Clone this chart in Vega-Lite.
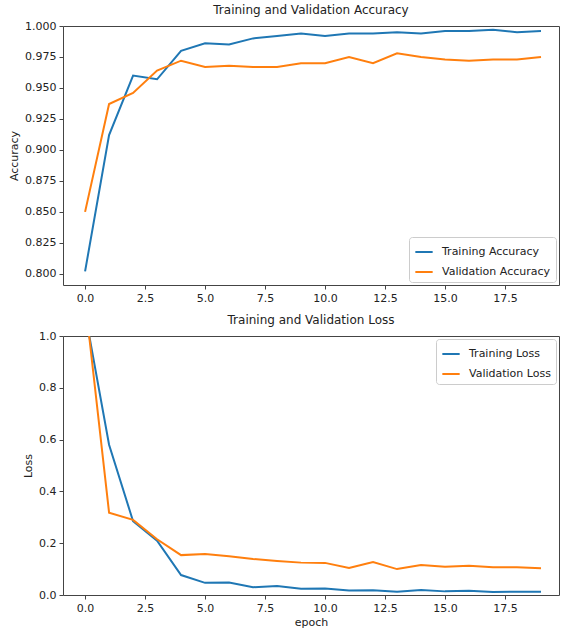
{
  "$schema": "https://vega.github.io/schema/vega-lite/v6.json",
  "padding": {"left": 8, "top": 3, "right": 0, "bottom": 0},
  "background": "white",
  "config": {
    "font": "DejaVu Sans",
    "view": {"stroke": "#444", "strokeWidth": 1},
    "axis": {"grid": false, "domain": false, "tickColor": "#444", "tickSize": 4, "labelFontSize": 11, "labelColor": "#222", "titleFontSize": 11, "titleFontWeight": "normal", "titleColor": "#222", "labelPadding": 3},
    "title": {"fontSize": 12, "fontWeight": "normal", "color": "#222", "offset": 3},
    "legend": {"labelFontSize": 11, "labelColor": "#222", "strokeColor": "#ccc", "fillColor": "white", "cornerRadius": 3, "padding": 5, "symbolType": "stroke", "symbolSize": 300, "symbolStrokeWidth": 2, "rowPadding": 5, "offset": 3, "labelOffset": 8},
    "concat": {"spacing": 9}
  },
  "datasets": {
    "acc": [
      {"epoch": 0, "series": "Training Accuracy", "value": 0.802},
      {"epoch": 1, "series": "Training Accuracy", "value": 0.912},
      {"epoch": 2, "series": "Training Accuracy", "value": 0.960},
      {"epoch": 3, "series": "Training Accuracy", "value": 0.957},
      {"epoch": 4, "series": "Training Accuracy", "value": 0.980},
      {"epoch": 5, "series": "Training Accuracy", "value": 0.986},
      {"epoch": 6, "series": "Training Accuracy", "value": 0.985},
      {"epoch": 7, "series": "Training Accuracy", "value": 0.990},
      {"epoch": 8, "series": "Training Accuracy", "value": 0.992},
      {"epoch": 9, "series": "Training Accuracy", "value": 0.994},
      {"epoch": 10, "series": "Training Accuracy", "value": 0.992},
      {"epoch": 11, "series": "Training Accuracy", "value": 0.994},
      {"epoch": 12, "series": "Training Accuracy", "value": 0.994},
      {"epoch": 13, "series": "Training Accuracy", "value": 0.995},
      {"epoch": 14, "series": "Training Accuracy", "value": 0.994},
      {"epoch": 15, "series": "Training Accuracy", "value": 0.996},
      {"epoch": 16, "series": "Training Accuracy", "value": 0.996},
      {"epoch": 17, "series": "Training Accuracy", "value": 0.997},
      {"epoch": 18, "series": "Training Accuracy", "value": 0.995},
      {"epoch": 19, "series": "Training Accuracy", "value": 0.996},
      {"epoch": 0, "series": "Validation Accuracy", "value": 0.850},
      {"epoch": 1, "series": "Validation Accuracy", "value": 0.937},
      {"epoch": 2, "series": "Validation Accuracy", "value": 0.946},
      {"epoch": 3, "series": "Validation Accuracy", "value": 0.964},
      {"epoch": 4, "series": "Validation Accuracy", "value": 0.972},
      {"epoch": 5, "series": "Validation Accuracy", "value": 0.967},
      {"epoch": 6, "series": "Validation Accuracy", "value": 0.968},
      {"epoch": 7, "series": "Validation Accuracy", "value": 0.967},
      {"epoch": 8, "series": "Validation Accuracy", "value": 0.967},
      {"epoch": 9, "series": "Validation Accuracy", "value": 0.970},
      {"epoch": 10, "series": "Validation Accuracy", "value": 0.970},
      {"epoch": 11, "series": "Validation Accuracy", "value": 0.975},
      {"epoch": 12, "series": "Validation Accuracy", "value": 0.970},
      {"epoch": 13, "series": "Validation Accuracy", "value": 0.978},
      {"epoch": 14, "series": "Validation Accuracy", "value": 0.975},
      {"epoch": 15, "series": "Validation Accuracy", "value": 0.973},
      {"epoch": 16, "series": "Validation Accuracy", "value": 0.972},
      {"epoch": 17, "series": "Validation Accuracy", "value": 0.973},
      {"epoch": 18, "series": "Validation Accuracy", "value": 0.973},
      {"epoch": 19, "series": "Validation Accuracy", "value": 0.975}
    ],
    "loss": [
      {"epoch": 0, "series": "Training Loss", "value": 1.09},
      {"epoch": 1, "series": "Training Loss", "value": 0.58},
      {"epoch": 2, "series": "Training Loss", "value": 0.285},
      {"epoch": 3, "series": "Training Loss", "value": 0.21},
      {"epoch": 4, "series": "Training Loss", "value": 0.077},
      {"epoch": 5, "series": "Training Loss", "value": 0.047},
      {"epoch": 6, "series": "Training Loss", "value": 0.048},
      {"epoch": 7, "series": "Training Loss", "value": 0.03},
      {"epoch": 8, "series": "Training Loss", "value": 0.035},
      {"epoch": 9, "series": "Training Loss", "value": 0.024},
      {"epoch": 10, "series": "Training Loss", "value": 0.025},
      {"epoch": 11, "series": "Training Loss", "value": 0.017},
      {"epoch": 12, "series": "Training Loss", "value": 0.018},
      {"epoch": 13, "series": "Training Loss", "value": 0.013},
      {"epoch": 14, "series": "Training Loss", "value": 0.019},
      {"epoch": 15, "series": "Training Loss", "value": 0.014},
      {"epoch": 16, "series": "Training Loss", "value": 0.016},
      {"epoch": 17, "series": "Training Loss", "value": 0.012},
      {"epoch": 18, "series": "Training Loss", "value": 0.013},
      {"epoch": 19, "series": "Training Loss", "value": 0.013},
      {"epoch": 0, "series": "Validation Loss", "value": 1.14},
      {"epoch": 1, "series": "Validation Loss", "value": 0.318},
      {"epoch": 2, "series": "Validation Loss", "value": 0.29},
      {"epoch": 3, "series": "Validation Loss", "value": 0.215},
      {"epoch": 4, "series": "Validation Loss", "value": 0.154},
      {"epoch": 5, "series": "Validation Loss", "value": 0.158},
      {"epoch": 6, "series": "Validation Loss", "value": 0.15},
      {"epoch": 7, "series": "Validation Loss", "value": 0.139},
      {"epoch": 8, "series": "Validation Loss", "value": 0.131},
      {"epoch": 9, "series": "Validation Loss", "value": 0.125},
      {"epoch": 10, "series": "Validation Loss", "value": 0.124},
      {"epoch": 11, "series": "Validation Loss", "value": 0.104},
      {"epoch": 12, "series": "Validation Loss", "value": 0.127},
      {"epoch": 13, "series": "Validation Loss", "value": 0.1},
      {"epoch": 14, "series": "Validation Loss", "value": 0.116},
      {"epoch": 15, "series": "Validation Loss", "value": 0.109},
      {"epoch": 16, "series": "Validation Loss", "value": 0.113},
      {"epoch": 17, "series": "Validation Loss", "value": 0.107},
      {"epoch": 18, "series": "Validation Loss", "value": 0.107},
      {"epoch": 19, "series": "Validation Loss", "value": 0.103}
    ]
  },
  "resolve": {"scale": {"color": "independent"}, "legend": {"color": "independent"}},
  "vconcat": [
    {
      "title": "Training and Validation Accuracy",
      "width": 496,
      "height": 259,
      "data": {"name": "acc"},
      "mark": {"type": "line", "strokeWidth": 2, "clip": true},
      "encoding": {
        "x": {"field": "epoch", "type": "quantitative", "title": null,
              "scale": {"domain": [-0.92, 19.75], "nice": false, "zero": false},
              "axis": {"values": [0, 2.5, 5, 7.5, 10, 12.5, 15, 17.5], "format": ".1f"}},
        "y": {"field": "value", "type": "quantitative", "title": "Accuracy",
              "scale": {"domain": [0.791, 1.0], "nice": false, "zero": false},
              "axis": {"values": [0.8, 0.825, 0.85, 0.875, 0.9, 0.925, 0.95, 0.975, 1.0], "format": ".3f", "titlePadding": 5}},
        "color": {"field": "series", "type": "nominal",
                  "scale": {"domain": ["Training Accuracy", "Validation Accuracy"], "range": ["#1f77b4", "#ff7f0e"]},
                  "legend": {"title": null, "orient": "bottom-right"}}
      }
    },
    {
      "title": "Training and Validation Loss",
      "width": 496,
      "height": 259,
      "data": {"name": "loss"},
      "mark": {"type": "line", "strokeWidth": 2, "clip": true},
      "encoding": {
        "x": {"field": "epoch", "type": "quantitative", "title": "epoch",
              "scale": {"domain": [-0.92, 19.75], "nice": false, "zero": false},
              "axis": {"values": [0, 2.5, 5, 7.5, 10, 12.5, 15, 17.5], "format": ".1f", "titlePadding": 3}},
        "y": {"field": "value", "type": "quantitative", "title": "Loss",
              "scale": {"domain": [0, 1.0], "nice": false},
              "axis": {"values": [0, 0.2, 0.4, 0.6, 0.8, 1.0], "format": ".1f", "titlePadding": 5}},
        "color": {"field": "series", "type": "nominal",
                  "scale": {"domain": ["Training Loss", "Validation Loss"], "range": ["#1f77b4", "#ff7f0e"]},
                  "legend": {"title": null, "orient": "top-right"}}
      }
    }
  ]
}
